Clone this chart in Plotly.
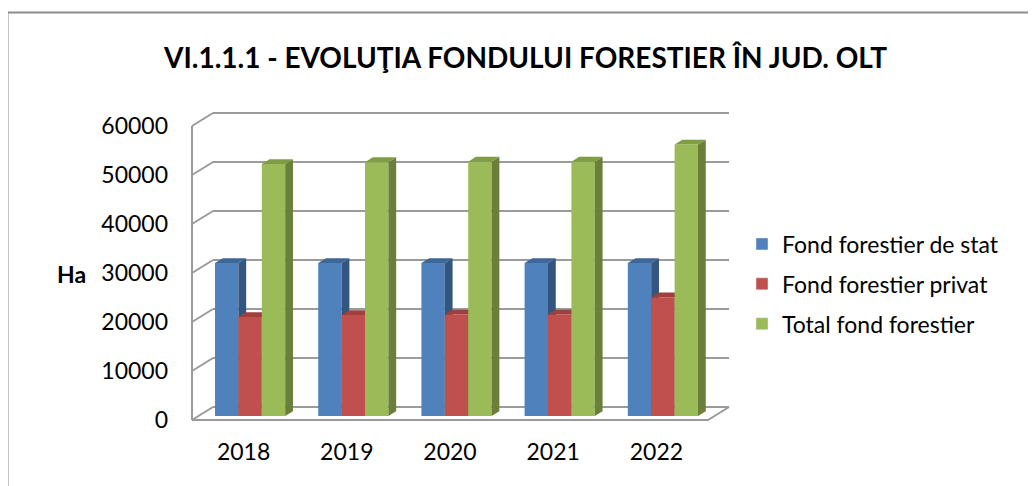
import plotly.graph_objects as go

# ---------------- data ----------------
years = ["2018", "2019", "2020", "2021", "2022"]
series_names = ["Fond forestier de stat", "Fond forestier privat", "Total fond forestier"]
fond_stat = [31200, 31200, 31200, 31200, 31200]
fond_privat = [20200, 20600, 20700, 20700, 24200]
fond_total = [51400, 51800, 51900, 51900, 55400]
y_ticks = [0, 10000, 20000, 30000, 40000, 50000, 60000]
title_text = "VI.1.1.1 - EVOLUŢIA FONDULUI FORESTIER ÎN JUD. OLT"
y_title = "Ha"

series_values = [fond_stat, fond_privat, fond_total]
front_colors = ["#4F81BD", "#C0504D", "#9BBB59"]
side_colors = ["#34557F", "#8C3836", "#6A7F3A"]
top_colors = ["#3E6699", "#A13F3C", "#7F9D45"]

# ---------------- geometry (pixels -> axis units) ----------------
W, H = 1036, 486
OFF = 8        # page body margin offset
U = 103.2      # px per category slot
V = 0.0049     # px per value unit
X0, Y0 = 192 - OFF, 420 - OFF   # pixel of front-left floor corner (x=0, y=0)
DXu = 21 / U        # depth offset of back wall in x units
DYu = 13 / V        # depth offset of back wall in y units
n = len(years)
ymax = y_ticks[-1]

PL, PR, PT, PB = 169 - OFF, 742 - OFF, 104 - OFF, 436 - OFF
xa, xb = (PL - X0) / U, (PR - X0) / U
ya, yb = (Y0 - PB) / V, (Y0 - PT) / V


def px_to_paper_x(px):
    return (px - OFF - PL) / (PR - PL)


def px_to_paper_y(py):
    return (PB - (py - OFF)) / (PB - PT)


fig = go.Figure()

# ---------------- walls and floor ----------------
wx, wy = [], []
for v in y_ticks:
    # back wall gridline
    wx += [DXu, n + DXu, None]
    wy += [v + DYu, v + DYu, None]
    # left wall diagonal
    wx += [0, DXu, None]
    wy += [v, v + DYu, None]
# left front axis line
wx += [0, 0, None]
wy += [0, ymax, None]
# floor front edge and right diagonal
wx += [0, n, n + DXu, None]
wy += [0, 0, DYu, None]
fig.add_trace(go.Scatter(x=wx, y=wy, mode="lines",
                         line=dict(color="#9a9a9a", width=2),
                         hoverinfo="skip", showlegend=False))

# ---------------- 3D bars ----------------
group_frac = 0.68
bw = group_frac / len(series_values)
gap0 = (1 - group_frac) / 2
d0, d1 = 0.31, 0.68
ox0, oy0 = d0 * DXu, d0 * DYu
ox1, oy1 = d1 * DXu, d1 * DYu

for j, vals in enumerate(series_values):
    fx, fy, sx, sy, tx, ty = [], [], [], [], [], []
    for i, v in enumerate(vals):
        xl = i + gap0 + j * bw
        xr = xl + bw
        fx += [xl + ox0, xr + ox0, xr + ox0, xl + ox0, xl + ox0, None]
        fy += [oy0, oy0, v + oy0, v + oy0, oy0, None]
        sx += [xr + ox0, xr + ox1, xr + ox1, xr + ox0, xr + ox0, None]
        sy += [oy0, oy1, v + oy1, v + oy0, oy0, None]
        tx += [xl + ox0, xr + ox0, xr + ox1, xl + ox1, xl + ox0, None]
        ty += [v + oy0, v + oy0, v + oy1, v + oy1, v + oy0, None]
    for xs, ys, col in ((fx, fy, front_colors[j]), (sx, sy, side_colors[j]), (tx, ty, top_colors[j])):
        fig.add_trace(go.Scatter(x=xs, y=ys, mode="lines", fill="toself",
                                 fillcolor=col, line=dict(width=0, color=col),
                                 hoverinfo="skip", showlegend=False))

# legend entries
for j, name in enumerate(series_names):
    fig.add_trace(go.Bar(x=[None], y=[None], name=name, legendgroup=name,
                         marker=dict(color=front_colors[j]), hoverinfo="skip"))

# ---------------- layout ----------------
font_family = "Lato"
fig.update_layout(
    width=W, height=H, autosize=False,
    margin=dict(l=PL, r=W - PR, t=PT, b=H - PB, autoexpand=False),
    paper_bgcolor="white", plot_bgcolor="white",
    font=dict(family=font_family, color="#000000", size=23),
    showlegend=True,
    legend=dict(x=px_to_paper_x(742), xanchor="left",
                y=px_to_paper_y(284), yanchor="middle",
                font=dict(size=23, family=font_family, color="#000000"),
                tracegroupgap=7, bgcolor="rgba(0,0,0,0)"),
    xaxis=dict(range=[xa, xb], tickvals=[i + 0.5 for i in range(n)], ticktext=years,
               showgrid=False, zeroline=False, showline=False, ticks="",
               tickfont=dict(size=23, family=font_family, color="#000000"), fixedrange=True),
    yaxis=dict(range=[ya, yb], tickvals=y_ticks, ticktext=[str(t) for t in y_ticks],
               showgrid=False, zeroline=False, showline=False, ticks="",
               tickfont=dict(size=23, family=font_family, color="#000000"), fixedrange=True),
    annotations=[
        dict(text="<b>" + title_text + "</b>", xref="paper", yref="paper",
             x=px_to_paper_x(525), y=px_to_paper_y(57), xanchor="center", yanchor="middle",
             showarrow=False, font=dict(size=28, family=font_family, color="#000000")),
        dict(text="<b>" + y_title + "</b>", xref="paper", yref="paper",
             x=px_to_paper_x(71), y=px_to_paper_y(274), xanchor="center", yanchor="middle",
             showarrow=False, font=dict(size=23, family=font_family, color="#000000")),
    ],
    shapes=[dict(type="rect", xref="paper", yref="paper",
                 x0=px_to_paper_x(7.5), x1=px_to_paper_x(1060),
                 y0=px_to_paper_y(510), y1=px_to_paper_y(12.5),
                 line=dict(color="#8c8c8c", width=2), fillcolor="rgba(0,0,0,0)", layer="below")],
)

fig.write_html("out.html")
